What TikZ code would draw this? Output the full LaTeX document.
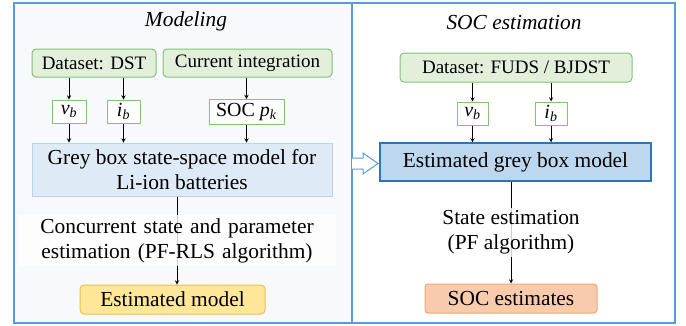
\documentclass[tikz,border=0pt]{standalone}
\usepackage{fontspec}
\setmainfont{Liberation Serif}
\usetikzlibrary{arrows}
\definecolor{frameblue}{HTML}{5B9BD5}
\definecolor{panelfill}{HTML}{F7F9FC}
\definecolor{greenline}{HTML}{86C273}
\definecolor{greenfill}{HTML}{E2EFDA}
\definecolor{greyline}{HTML}{B4D3EE}
\definecolor{greyfill}{HTML}{DEEBF7}
\definecolor{modelline}{HTML}{2E75B6}
\definecolor{modelfill}{HTML}{BDD7EE}
\definecolor{yellowline}{HTML}{EDC04F}
\definecolor{yellowfill}{HTML}{FFE699}
\definecolor{orangeline}{HTML}{EDA874}
\definecolor{orangefill}{HTML}{F8CBAD}
\tikzstyle{dataset} = [rectangle, rounded corners=4pt, minimum height=28pt, text centered, draw=greenline, fill=greenfill, line width=1pt, font=\fontsize{19}{23}\selectfont]
\tikzstyle{signal} = [rectangle, minimum height=23pt, inner sep=2pt, text centered, draw=greenline, fill=white, line width=1pt, font=\fontsize{20}{24}\selectfont]
\tikzstyle{greybox} = [rectangle, align=center, draw=greyline, fill=greyfill, line width=1pt]
\tikzstyle{estbox} = [rectangle, text centered, draw=modelline, fill=modelfill, line width=1.2pt]
\tikzstyle{yellowout} = [rectangle, rounded corners=4pt, text centered, draw=yellowline, fill=yellowfill, line width=1pt]
\tikzstyle{orangeout} = [rectangle, rounded corners=3pt, text centered, draw=orangeline, fill=orangefill, line width=1pt]
\tikzstyle{steplabel} = [align=center, fill=white, fill opacity=0.8, text opacity=1, inner sep=3pt]
\tikzstyle{arrow} = [line width=0.9pt,->,>=stealth]
\begin{document}
\begin{tikzpicture}[x=1pt, y=-1pt, font=\fontsize{21.4}{25}\selectfont]
		\useasboundingbox (0,0) rectangle (686,325);
		% panels
		\fill [panelfill] (14,3) rectangle (352,323);
		\draw [frameblue, line width=1.2pt] (352,3) -- (352,323);
		\draw [frameblue, line width=1.5pt] (14,3) rectangle (675,323);
		\fill [white] (352,158) -- (363,158) -- (363,153) -- (378,163.5) -- (363,174) -- (363,169) -- (352,169) -- cycle;
		\draw [frameblue, line width=1pt] (352,158) -- (363,158) -- (363,153) -- (378,163.5) -- (363,174) -- (363,169) -- (352,169);
		\node (modeling) at (186,21) {\textit{Modeling}};
		\node (socest) at (514,23) {\textit{SOC estimation}};
		% modeling
		\node (dst) [dataset, minimum width=124pt] at (94,63) {Dataset: DST};
		\node (curint) [dataset, minimum width=169pt] at (247.5,63) {Current integration};
		\node (vbone) [signal, minimum width=34pt] at (69,111.5) {\textit{v}\textsubscript{\textit{b}}};
		\node (ibone) [signal, minimum width=33pt] at (123.5,111.5) {\textit{i}\textsubscript{\textit{b}}};
		\node (socpk) [signal, minimum width=75pt, minimum height=25pt] at (246.5,112) {SOC \textit{p}\textsubscript{\textit{k}}};
		\node (ssmodel) [greybox, minimum width=300pt, minimum height=53pt] at (182,169.5) {Grey box state-space model for\\Li-ion batteries};
		\node (estmodel) [yellowout, minimum width=185pt, minimum height=29pt] at (172.5,299.5) {Estimated model};
		\draw [arrow] (dst.south -| vbone) -- (vbone);
		\draw [arrow] (dst.south -| ibone) -- (ibone);
		\draw [arrow] (curint.south -| socpk) -- (socpk);
		\draw [arrow] (vbone) -- (ssmodel.north -| vbone);
		\draw [arrow] (ibone) -- (ssmodel.north -| ibone);
		\draw [arrow] (socpk) -- (ssmodel.north -| socpk);
		\draw [arrow] ([xshift=-5pt]ssmodel.south) -- node[steplabel, text width=312pt] {Concurrent state and parameter\\estimation (PF-RLS algorithm)} ([xshift=-5pt]ssmodel.south |- estmodel.north);
		% SOC estimation
		\node (fuds) [dataset, minimum width=232pt, minimum height=29pt] at (516,67.5) {Dataset: FUDS / BJDST};
		\node (vbtwo) [signal, minimum width=31pt] at (472.5,113.5) {\textit{v}\textsubscript{\textit{b}}};
		\node (ibtwo) [signal, minimum width=32pt] at (551,113.5) {\textit{i}\textsubscript{\textit{b}}};
		\node (gbmodel) [estbox, minimum width=271pt, minimum height=38pt] at (515.5,162) {Estimated grey box model};
		\node (socout) [orangeout, minimum width=172pt, minimum height=29pt] at (511,298.5) {SOC estimates};
		\draw [arrow] (fuds.south -| vbtwo) -- (vbtwo);
		\draw [arrow] (fuds.south -| ibtwo) -- (ibtwo);
		\draw [arrow] (vbtwo) -- (gbmodel.north -| vbtwo);
		\draw [arrow] (ibtwo) -- (gbmodel.north -| ibtwo);
		\draw [arrow] (gbmodel.south -| socout) -- node[steplabel] {State estimation\\(PF algorithm)} (socout);
	\end{tikzpicture}
\end{document}
